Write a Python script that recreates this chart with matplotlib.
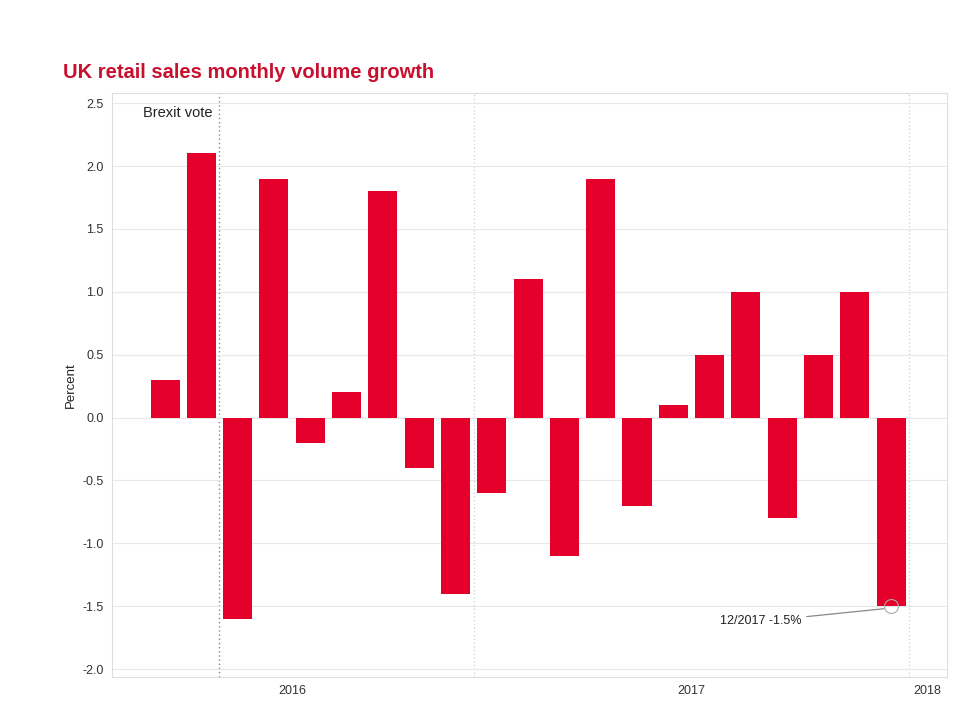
import matplotlib
matplotlib.use("Agg")
import matplotlib.pyplot as plt

plt.rcParams['font.family'] = ['Liberation Sans', 'DejaVu Sans']

# Months since Jan 2016 (Apr 2016 .. Dec 2017)
months = list(range(3, 24))
growth = [0.3, 2.1, -1.6, 1.9, -0.2, 0.2, 1.8, -0.4, -1.4, -0.6, 1.1,
          -1.1, 1.9, -0.7, 0.1, 0.5, 1.0, -0.8, 0.5, 1.0, -1.5]
yticks = [-2.0, -1.5, -1.0, -0.5, 0.0, 0.5, 1.0, 1.5, 2.0, 2.5]
year_labels = ['2016', '2017', '2018']
year_label_pos = [6.5, 17.5, 24.0]
year_bounds = [11.5, 23.5]
brexit_pos = 4.5

fig = plt.figure(figsize=(9.6, 7.2), dpi=100)
ax = fig.add_axes([0.1167, 0.0597, 0.8698, 0.811])

ax.bar(months, growth, width=0.8, color='#e4002b', zorder=3)

ax.set_xlim(1.54, 24.54)
ax.set_ylim(-2.063, 2.58)
ax.set_yticks(yticks)
ax.set_yticklabels([f"{v:.1f}" for v in yticks], fontsize=9, color='#333333')
ax.set_xticks(year_label_pos)
ax.set_xticklabels(year_labels, fontsize=9, color='#333333')
ax.tick_params(axis='both', length=0, pad=6)
ax.yaxis.grid(True, color='#e8e8e8', linewidth=0.8, zorder=0)
for s in ax.spines.values():
    s.set_color('#dddddd')
    s.set_linewidth(0.8)

for b in year_bounds:
    ax.axvline(b, color='#cccccc', linestyle=(0, (1, 2)), linewidth=0.9, zorder=1)
ax.axvline(brexit_pos, color='#888888', linestyle=(0, (1, 2)), linewidth=1.0, zorder=1)
ax.text(brexit_pos - 0.18, 2.42, 'Brexit vote', ha='right', va='center',
        fontsize=10.5, color='#222222')

ax.set_ylabel('Percent', fontsize=9.5, color='#222222', labelpad=4)

ax.plot([months[-1]], [growth[-1]], marker='o', markersize=10,
        markerfacecolor='none', markeredgecolor='#aaaaaa', markeredgewidth=0.8, zorder=4)
ax.annotate('12/2017 -1.5%', xy=(months[-1] - 0.2, growth[-1] - 0.02),
            xytext=(19.4, -1.62), ha='center', va='center', fontsize=9,
            color='#222222',
            arrowprops=dict(arrowstyle='-', color='#888888', lw=0.9,
                            shrinkA=2, shrinkB=0), zorder=5)

fig.text(0.0656, 0.9, 'UK retail sales monthly volume growth', fontsize=14.5,
         fontweight='bold', color='#c8102e', ha='left', va='center')

fig.savefig('out.png', dpi=100)
